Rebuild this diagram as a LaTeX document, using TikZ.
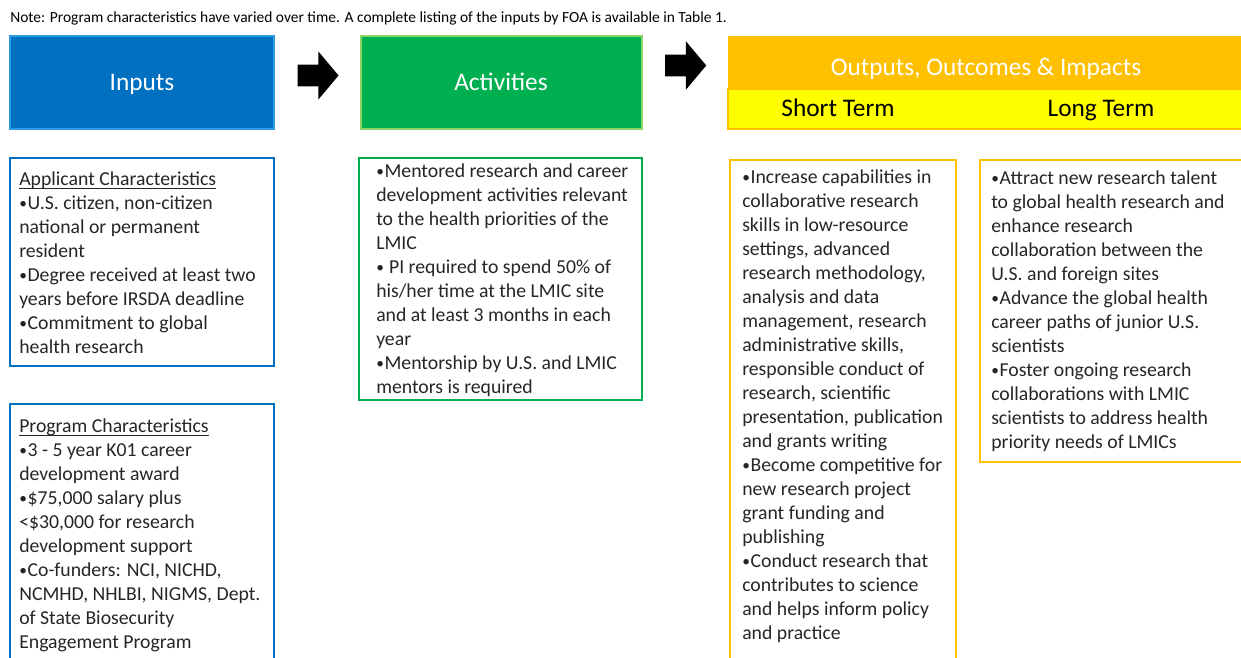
\documentclass[tikz,border=0pt]{standalone}
\usepackage{fontspec}
\setmainfont{Carlito}
\usetikzlibrary{fit,shapes.arrows,calc}
\definecolor{inblue}{HTML}{0070C0}
\definecolor{inedge}{HTML}{2E9BE6}
\definecolor{actgreen}{HTML}{00B050}
\definecolor{actedge}{HTML}{8ED36A}
\definecolor{outorange}{HTML}{FFC000}
\definecolor{termyellow}{HTML}{FFFF00}
\definecolor{bodytext}{HTML}{262626}
% small bullet used in the lists
\newcommand\bul{\raisebox{0.12ex}{\scalebox{0.78}{•}}\kern0.5pt}
% underline set close to the baseline
\newcommand\ulhead[1]{\underline{\raisebox{0pt}[\height][0pt]{#1}}}
\tikzset{
  header/.style={inner sep=0pt, text=white, font=\fontsize{19}{22}\selectfont},
  bodybox/.style={inner sep=0pt, line width=1.8pt},
  bodytxt/.style={inner sep=0pt, anchor=north west, align=left, text=bodytext,
    font=\fontsize{14.8}{18}\selectfont},
  blockarrow/.style={single arrow, fill=black, draw=none, inner xsep=0pt,
    inner ysep=7.9pt, minimum height=30.75pt, single arrow head extend=10pt,
    single arrow tip angle=100}
}
\begin{document}
\begin{tikzpicture}[x=0.75pt,y=-0.75pt]
\clip (0,0) rectangle (1241,657);
\useasboundingbox (0,0) rectangle (1241,657);
\fill[white] (0,0) rectangle (1241,657);

% note line
\node[inner sep=0pt, anchor=base west, font=\fontsize{11.6}{13}\selectfont] (note) at (10,22)
  {Note: Program characteristics have varied over time. A complete listing of the inputs by FOA is available in Table 1.};

% column headers
\node[header, fit={(10,36)(274,129)}, fill=inblue, draw=inedge, line width=1pt] (inputs) {};
\node[header, anchor=base] at (142,90) {Inputs};
\node[header, fit={(361,36)(642,129)}, fill=actgreen, draw=actedge, line width=1pt] (activities) {};
\node[header, anchor=base] at (501,90) {Activities};
\node[header, fit={(728,36)(1250,89)}, fill=outorange] (outputs) {};
\node[header, anchor=base] (outtitle) at (986,75) {Outputs, Outcomes \& Impacts};
\node[header, fit={(728,89)(1250,129)}, fill=termyellow, draw=outorange, line width=1pt] (terms) {};
\node[header, text=black, anchor=base] (shortlbl) at (838,116) {Short Term};
\node[header, text=black, anchor=base] (longlbl) at (1101,116) {Long Term};

% block arrows between the stages
\node[blockarrow] (arr1) at ($(inputs.east)!0.5!(activities.west)+(-4,-7)$) {};
\node[blockarrow] (arr2) at ($(activities.east)!0.5!(outputs.west)+(-4,-7)$) {};

% inputs: applicant characteristics
\node[bodybox, fit={(10,158)(274,366)}, draw=inblue] (applicant) {};
\node[bodytxt] (applicanttxt) at (19,172) {\ulhead{Applicant Characteristics}\\
\bul U.S. citizen, non-citizen\\
national or permanent\\
resident\\
\bul Degree received at least two\\
years before IRSDA deadline\\
\bul Commitment to global\\
health research};

% inputs: program characteristics
\node[bodybox, fit={(10,404)(274,680)}, draw=inblue] (program) {};
\node[bodytxt] (programtxt) at (19,419) {\ulhead{Program Characteristics}\\
\bul 3 - 5 year K01 career\\
development award\\
\bul\$75,000 salary plus\\
<\$30,000 for research\\
development support\\
\bul Co-funders: NCI, NICHD,\\
NCMHD, NHLBI, NIGMS, Dept.\\
of State Biosecurity\\
Engagement Program};

% activities
\node[bodybox, fit={(359,158)(642,400)}, draw=actgreen] (actbox) {};
\node[bodytxt] (acttxt) at (376,164) {\bul Mentored research and career\\
development activities relevant\\
to the health priorities of the\\
LMIC\\
\bul\ PI required to spend 50\% of\\
his/her time at the LMIC site\\
and at least 3 months in each\\
year\\
\bul Mentorship by U.S. and LMIC\\
mentors is required};

% short-term outcomes
\node[bodybox, fit={(730,160)(956,680)}, draw=outorange] (shortbox) {};
\node[bodytxt] (shorttxt) at (742,170) {\bul Increase capabilities in\\
collaborative research\\
skills in low-resource\\
settings, advanced\\
research methodology,\\
analysis and data\\
management, research\\
administrative skills,\\
responsible conduct of\\
research, scientific\\
presentation, publication\\
and grants writing\\
\bul Become competitive for\\
new research project\\
grant funding and\\
publishing\\
\bul Conduct research that\\
contributes to science\\
and helps inform policy\\
and practice};

% long-term impacts
\node[bodybox, fit={(980,160)(1250,462)}, draw=outorange] (longbox) {};
\node[bodytxt] (longtxt) at (991,171) {\bul Attract new research talent\\
to global health research and\\
enhance research\\
collaboration between the\\
U.S. and foreign sites\\
\bul Advance the global health\\
career paths of junior U.S.\\
scientists\\
\bul Foster ongoing research\\
collaborations with LMIC\\
scientists to address health\\
priority needs of LMICs};
\end{tikzpicture}
\end{document}
